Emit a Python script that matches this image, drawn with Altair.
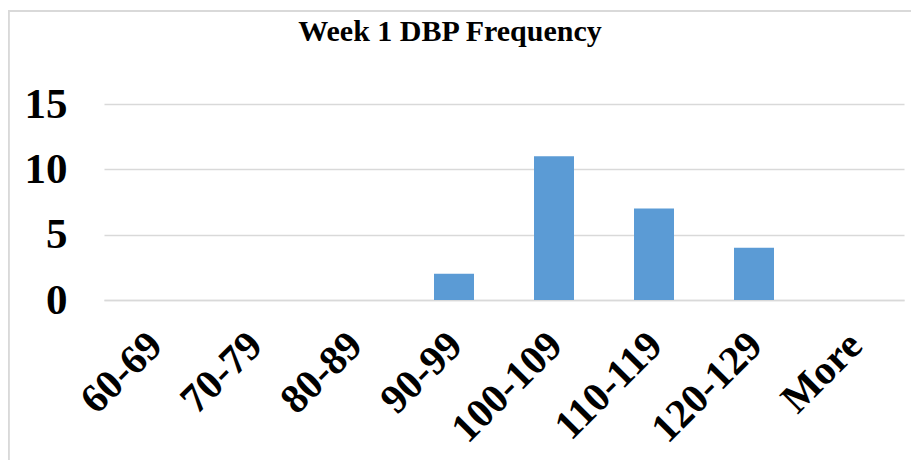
import altair as alt
import pandas as pd

categories = ["60-69", "70-79", "80-89", "90-99", "100-109", "110-119", "120-129", "More"]
frequency = [0, 0, 0, 2, 11, 7, 4, 0]
y_ticks = [0, 5, 10, 15]

df = pd.DataFrame({"range": categories, "freq": frequency})

FONT = "Liberation Serif"
GRID = "#D9D9D9"

bars = alt.Chart(df).mark_bar(color="#5B9BD5").encode(
    x=alt.X(
        "range:N",
        sort=categories,
        title=None,
        scale=alt.Scale(paddingInner=0.6, paddingOuter=0.3),
        axis=alt.Axis(
            labelAngle=-45,
            labelAlign="right",
            labelBaseline="middle",
            labelFont=FONT,
            labelFontSize=41,
            labelFontWeight="bold",
            labelColor="#000000",
            labelPadding=39,
            labelOffset=2,
            ticks=False,
            domainColor=GRID,
            domainWidth=1.5,
            grid=False,
        ),
    ),
    y=alt.Y(
        "freq:Q",
        title=None,
        scale=alt.Scale(domain=[0, 15], nice=False),
        axis=alt.Axis(
            values=y_ticks,
            labelFont=FONT,
            labelFontSize=43,
            labelFontWeight="bold",
            labelColor="#000000",
            labelPadding=37,
            ticks=False,
            domain=False,
            gridColor=GRID,
            gridWidth=1.5,
        ),
    ),
)

border_top = alt.Chart(df).mark_rule(color=GRID, strokeWidth=1.5).encode(
    x=alt.value(-96), x2=alt.value(807), y=alt.value(-93)
)
border_left = alt.Chart(df).mark_rule(color=GRID, strokeWidth=1.5).encode(
    x=alt.value(-95.5), y=alt.value(-93), y2=alt.value(360)
)

chart = (
    alt.layer(bars, border_top, border_left)
    .properties(
        width=800,
        height=196,
        autosize=alt.AutoSizeParams(type="none"),
        padding={"left": 96, "top": 96, "right": 7, "bottom": 160},
        title=alt.TitleParams(
            "Week 1 DBP Frequency",
            font=FONT,
            fontSize=30,
            fontWeight="bold",
            color="#000000",
            anchor="middle",
            baseline="alphabetic",
            dx=-54,
            dy=65,
        ),
    )
    .configure(background="white")
    .configure_view(strokeWidth=0, stroke="transparent")
)

chart.save("out.html", embed_options={"renderer": "svg", "actions": False})
